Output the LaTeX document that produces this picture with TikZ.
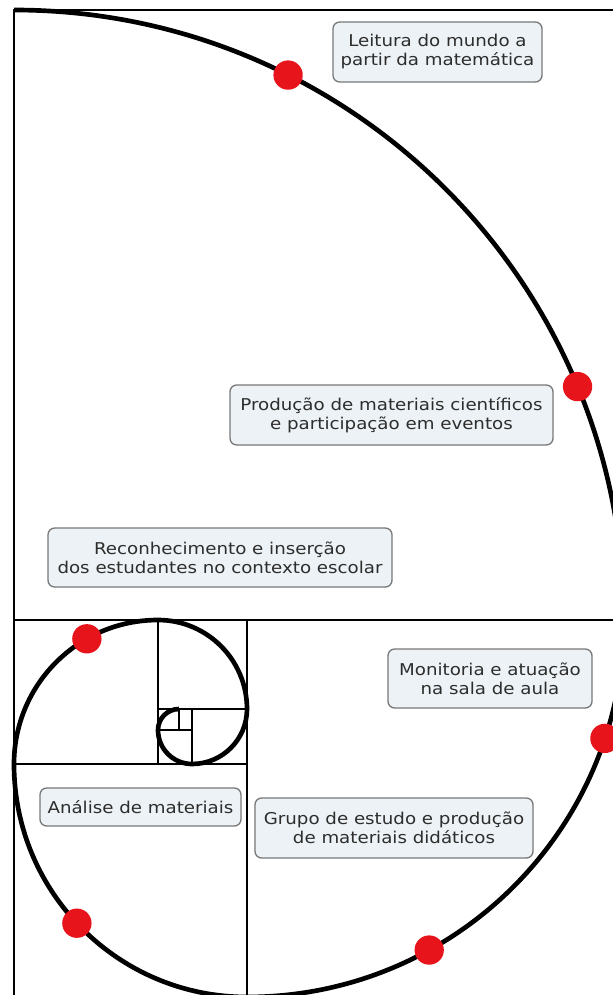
\documentclass[tikz,border=0pt]{standalone}
\usepackage{fontspec}
\newfontfamily\boxfont[FakeStretch=1.12]{DejaVu Sans}
\usetikzlibrary{calc}
\definecolor{boxfill}{RGB}{236,242,245}
\definecolor{boxline}{RGB}{120,120,120}
\definecolor{boxtext}{RGB}{45,45,45}
\definecolor{dotred}{RGB}{232,20,28}
\begin{document}
\begin{tikzpicture}[x=0.75pt,y=-0.75pt,
  frameline/.style={line width=1.7pt, draw=black},
  spiralline/.style={line width=3.5pt, draw=black},
  labelbox/.style={draw=boxline, fill=boxfill, line width=1pt, rounded corners=5pt,
    text=boxtext, font=\boxfont\fontsize{12.2}{14.25}\selectfont, align=center, inner sep=0pt},
  reddot/.style={circle, fill=dotred, inner sep=0pt, minimum size=22pt}]
\useasboundingbox (0,0) rectangle (613,995);
\fill[white] (0,0) rectangle (613,995);
\coordinate (c1) at (14,620);
\coordinate (c2) at (247,620);
\coordinate (c3) at (247,764);
\coordinate (c4) at (158,764);
\begin{scope}
\clip (0,0) rectangle (613,995);
% Fibonacci squares
\draw[frameline] (14,10) rectangle (624,620);
\draw[frameline] (247,620) rectangle (624,997);
\draw[frameline] (14,764) rectangle (247,997);
\draw[frameline] (14,620) rectangle (158,764);
\draw[frameline] (158,620) rectangle (247,709);
\draw[frameline] (192,709) rectangle (247,764);
\draw[frameline] (158,730) rectangle (192,764);
\draw[frameline] (158,709) rectangle (179,730);
% spiral
\draw[spiralline] (14,10)
  arc[start angle=270, end angle=360, radius=610]
  arc[start angle=0, end angle=90, radius=377]
  arc[start angle=90, end angle=180, radius=233]
  arc[start angle=180, end angle=270, radius=144]
  arc[start angle=270, end angle=360, radius=89]
  arc[start angle=0, end angle=90, radius=55]
  arc[start angle=90, end angle=180, radius=34]
  arc[start angle=180, end angle=270, radius=21];
% red dots
\node[reddot] (d1) at ($(c1)+(296.7:610)$) {};
\node[reddot] (d2) at ($(c1)+(337.5:610)$) {};
\node[reddot] (d3) at ($(c2)+(18.3:377)$) {};
\node[reddot] (d4) at ($(c2)+(61.1:377)$) {};
\node[reddot] (d5) at ($(c3)+(136.9:233)$) {};
\node[reddot] (d6) at ($(c4)+(240.4:144)$) {};
\end{scope}
% labels
\node[labelbox, minimum width=156.75pt, minimum height=45pt] (b1) at (437.5,52)
  {Leitura do mundo a\\partir da matemática};
\node[labelbox, minimum width=242.25pt, minimum height=45pt] (b2) at (391.5,415)
  {Produção de materiais científicos\\e participação em eventos};
\node[labelbox, minimum width=258pt, minimum height=44.25pt] (b3) at (220,557.5)
  {Reconhecimento e inserção\\dos estudantes no contexto escolar};
\node[labelbox, minimum width=153pt, minimum height=44.25pt] (b4) at (490,678.5)
  {Monitoria e atuação\\na sala de aula};
\node[labelbox, minimum width=150.75pt, minimum height=28.5pt] (b5) at (140.5,807)
  {Análise de materiais};
\node[labelbox, minimum width=208.5pt, minimum height=45pt] (b6) at (394,828)
  {Grupo de estudo e produção\\de materiais didáticos};
\end{tikzpicture}
\end{document}
